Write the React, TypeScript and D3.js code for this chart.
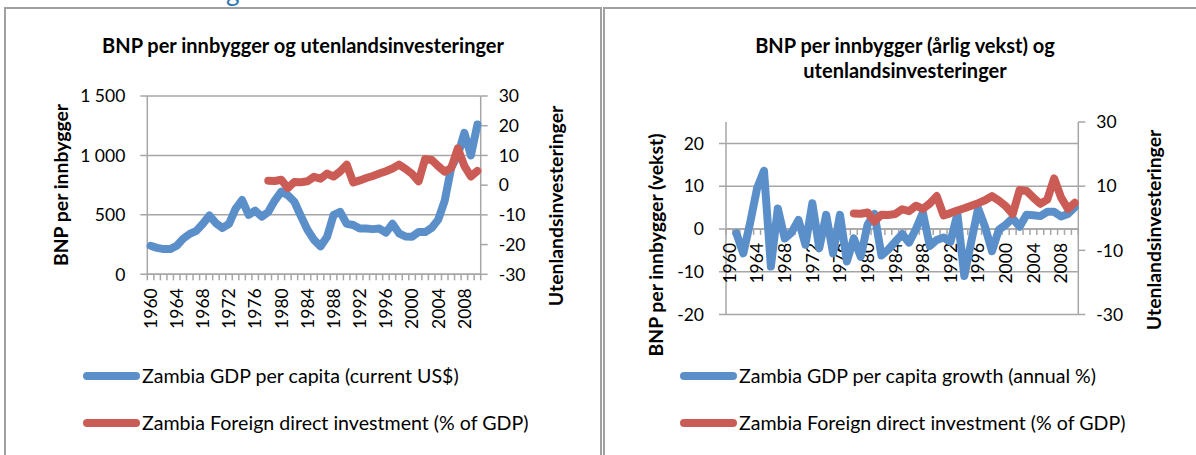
import React, { useEffect, useRef } from "react";
import * as d3 from "d3";

// category axis (one point per year)
const years = [
  1960, 1961, 1962, 1963, 1964, 1965, 1966, 1967, 1968, 1969,
  1970, 1971, 1972, 1973, 1974, 1975, 1976, 1977, 1978, 1979,
  1980, 1981, 1982, 1983, 1984, 1985, 1986, 1987, 1988, 1989,
  1990, 1991, 1992, 1993, 1994, 1995, 1996, 1997, 1998, 1999,
  2000, 2001, 2002, 2003, 2004, 2005, 2006, 2007, 2008, 2009, 2010,
];
const yearLabels = [1960, 1964, 1968, 1972, 1976, 1980, 1984, 1988, 1992, 1996, 2000, 2004, 2008];

// Zambia GDP per capita (current US$), 1960-2010
const gdpPerCapita = [
  240, 222, 212, 212, 240, 300, 340, 365, 425, 495,
  430, 390, 425, 550, 625, 500, 535, 485, 525, 620,
  695, 665, 610, 490, 375, 290, 235, 315, 500, 525,
  425, 415, 385, 385, 380, 385, 350, 425, 345, 318,
  315, 355, 355, 390, 460, 620, 900, 1000, 1190, 1000, 1260,
];

// Zambia GDP per capita growth (annual %), no value for 1960
const gdpGrowth: (number | null)[] = [
  null,
  -1.0, -5.7, 1.5, 9.5, 13.6, -8.8, 4.8, -2.2, -0.8, 2.1,
  -3.7, 6.0, -4.5, 3.3, -5.7, 3.3, -7.6, -2.2, -6.5, 1.0,
  3.5, -6.2, -4.8, -3.0, -1.2, -3.2, 0.0, 3.8, -4.0, -2.6,
  -2.0, -3.0, 3.5, -11.0, -3.0, 4.8, 0.5, -5.2, -0.2, 1.0,
  2.5, 0.5, 3.3, 3.2, 3.0, 4.0, 4.0, 2.9, 3.5, 5.1,
];

// Zambia Foreign direct investment (% of GDP), values from 1978
const fdi: (number | null)[] = [
  null, null, null, null, null, null, null, null, null, null,
  null, null, null, null, null, null, null, null,
  1.5, 1.4, 1.8, -1.0, 1.1, 1.0, 1.3, 2.8, 2.2, 3.9,
  2.9, 4.6, 6.9, 0.9, 1.6, 2.4, 3.1, 3.9, 4.7, 5.6,
  6.9, 5.5, 3.8, 1.3, 8.8, 8.5, 6.4, 4.5, 5.8, 12.4,
  6.5, 2.9, 4.8,
];

// axis ticks
const gdpTicks = [0, 500, 1000, 1500];
const fdiTicksA = [-30, -20, -10, 0, 10, 20, 30];
const growthTicks = [-20, -10, 0, 10, 20];
const fdiTicksB = [-30, -10, 10, 30];

const BLUE = "#5b8fc9";
const RED = "#cb5c55";
const GRID = "#a6a6a6";
const FONT = "Lato, 'Open Sans', sans-serif";

const nb = d3.formatLocale({ decimal: ",", thousands: " ", grouping: [3], currency: ["", ""] });
const fmtThousands = nb.format(",d");

function drawPanel(svg: any, p: any) {
  const g = svg.append("g");

  const x = d3.scaleBand<number>().domain(years).range([p.x0, p.x1]);
  const cx = (i: number) => (x(years[i]) as number) + x.bandwidth() / 2;
  const yL = d3.scaleLinear().domain(p.leftDomain).range([p.yBottom, p.yTop]);
  const yR = d3.scaleLinear().domain(p.rightDomain).range([p.yBottom, p.yTop]);

  // horizontal gridlines (left axis)
  g.selectAll(".grid")
    .data(p.leftTicks)
    .join("line")
    .attr("x1", p.x0 - 7)
    .attr("x2", p.x1)
    .attr("y1", (d: number) => yL(d))
    .attr("y2", (d: number) => yL(d))
    .attr("stroke", GRID)
    .attr("stroke-width", 1.5);

  // left & right axis lines
  g.append("line")
    .attr("x1", p.x0).attr("x2", p.x0)
    .attr("y1", p.yTop).attr("y2", p.yBottom)
    .attr("stroke", GRID).attr("stroke-width", 1.5);
  g.append("line")
    .attr("x1", p.x1).attr("x2", p.x1)
    .attr("y1", p.yTop).attr("y2", p.yBottom)
    .attr("stroke", GRID).attr("stroke-width", 1.5);

  // right ticks
  g.selectAll(".rtick")
    .data(p.rightTicks)
    .join("line")
    .attr("x1", p.x1)
    .attr("x2", p.x1 + 7)
    .attr("y1", (d: number) => yR(d))
    .attr("y2", (d: number) => yR(d))
    .attr("stroke", GRID)
    .attr("stroke-width", 1.5);

  // category axis at 0
  const axisY = yL(0);
  g.append("line")
    .attr("x1", p.x0).attr("x2", p.x1)
    .attr("y1", axisY).attr("y2", axisY)
    .attr("stroke", GRID).attr("stroke-width", 1.5);
  g.selectAll(".ctick")
    .data(d3.range(years.length + 1))
    .join("line")
    .attr("x1", (i: number) => p.x0 + i * x.step())
    .attr("x2", (i: number) => p.x0 + i * x.step())
    .attr("y1", axisY)
    .attr("y2", axisY + 6)
    .attr("stroke", GRID)
    .attr("stroke-width", 1.5);

  // tick labels
  g.selectAll(".ltxt")
    .data(p.leftTicks)
    .join("text")
    .attr("x", p.x0 - 22)
    .attr("y", (d: number) => yL(d))
    .attr("dy", "0.36em")
    .attr("text-anchor", "end")
    .attr("font-size", 17.5)
    .text((d: number) => p.leftFormat(d));
  g.selectAll(".rtxt")
    .data(p.rightTicks)
    .join("text")
    .attr("x", p.x1 + 18)
    .attr("y", (d: number) => yR(d))
    .attr("dy", "0.36em")
    .attr("font-size", 17.5)
    .text((d: number) => String(d));
  g.selectAll(".ytxt")
    .data(yearLabels)
    .join("text")
    .attr("transform", (d: number) => `translate(${cx(years.indexOf(d))},${axisY + 14}) rotate(-90)`)
    .attr("dy", "0.36em")
    .attr("text-anchor", "end")
    .attr("font-size", 17.5)
    .text((d: number) => String(d));

  // series
  const lineL = d3.line<number | null>()
    .defined((d) => d != null)
    .x((_, i) => cx(i))
    .y((d) => yL(d as number));
  const lineR = d3.line<number | null>()
    .defined((d) => d != null)
    .x((_, i) => cx(i))
    .y((d) => yR(d as number));
  g.append("path")
    .attr("d", lineL(p.leftSeries))
    .attr("fill", "none").attr("stroke", BLUE).attr("stroke-width", 8)
    .attr("stroke-linejoin", "round").attr("stroke-linecap", "round");
  g.append("path")
    .attr("d", lineR(p.rightSeries))
    .attr("fill", "none").attr("stroke", RED).attr("stroke-width", 8)
    .attr("stroke-linejoin", "round").attr("stroke-linecap", "round");

  // chart title
  g.append("text")
    .attr("x", p.titleX)
    .attr("y", p.titleY)
    .attr("text-anchor", "middle")
    .attr("font-size", 20)
    .attr("font-weight", "bold")
    .selectAll("tspan")
    .data(p.title)
    .join("tspan")
    .attr("x", p.titleX)
    .attr("dy", (_: string, i: number) => (i === 0 ? 0 : 25))
    .text((d: string) => d);

  // axis titles
  g.append("text")
    .attr("transform", `translate(${p.leftTitleX},${p.leftTitleY}) rotate(-90)`)
    .attr("text-anchor", "middle")
    .attr("font-size", 19.4)
    .attr("font-weight", "bold")
    .text(p.leftTitle);
  g.append("text")
    .attr("transform", `translate(${p.rightTitleX},${p.rightTitleY}) rotate(-90)`)
    .attr("text-anchor", "middle")
    .attr("font-size", 19.4)
    .attr("font-weight", "bold")
    .text(p.rightTitle);

  // legend
  const items = [
    { label: p.legend[0], color: BLUE, y: 376 },
    { label: p.legend[1], color: RED, y: 423 },
  ];
  const lg = g.selectAll(".leg").data(items).join("g");
  lg.append("line")
    .attr("x1", p.legendX + 4).attr("x2", p.legendX + 53)
    .attr("y1", (d: any) => d.y).attr("y2", (d: any) => d.y)
    .attr("stroke", (d: any) => d.color).attr("stroke-width", 8)
    .attr("stroke-linecap", "round");
  lg.append("text")
    .attr("x", p.legendX + 59)
    .attr("y", (d: any) => d.y)
    .attr("dy", "0.36em")
    .attr("font-size", 19.6)
    .text((d: any) => d.label);
}

export default function App() {
  const ref = useRef<SVGSVGElement>(null);

  useEffect(() => {
    const svg = d3.select(ref.current);
    svg.selectAll("*").remove();
    svg.attr("font-family", FONT).attr("fill", "#000");

    // page fragment and chart frames
    svg.append("text").attr("x", 226).attr("y", 1).attr("font-size", 26)
      .attr("fill", "#2e74b5").attr("font-family", FONT).text("g");
    svg.append("rect").attr("x", 5).attr("y", 8).attr("width", 596).attr("height", 460)
      .attr("fill", "none").attr("stroke", "#a0a0a0").attr("stroke-width", 2);
    svg.append("rect").attr("x", 604).attr("y", 8).attr("width", 600).attr("height", 460)
      .attr("fill", "none").attr("stroke", "#a0a0a0").attr("stroke-width", 2);

    drawPanel(svg, {
      x0: 147.3, x1: 480.7, yTop: 96, yBottom: 274.3,
      leftDomain: [0, 1500], rightDomain: [-30, 30],
      leftTicks: gdpTicks, rightTicks: fdiTicksA,
      leftFormat: (v: number) => fmtThousands(v),
      leftSeries: gdpPerCapita, rightSeries: fdi,
      title: ["BNP per innbygger og utenlandsinvesteringer"], titleX: 303, titleY: 53,
      leftTitle: "BNP per innbygger", leftTitleX: 68, leftTitleY: 185,
      rightTitle: "Utenlandsinvesteringer", rightTitleX: 563, rightTitleY: 206,
      legend: ["Zambia GDP per capita (current US$)", "Zambia Foreign direct investment (% of GDP)"],
      legendX: 83,
    });

    drawPanel(svg, {
      x0: 726, x1: 1078.3, yTop: 122, yBottom: 314.5,
      leftDomain: [-20, 25], rightDomain: [-30, 30],
      leftTicks: growthTicks, rightTicks: fdiTicksB,
      leftFormat: (v: number) => String(v),
      leftSeries: gdpGrowth, rightSeries: fdi,
      title: ["BNP per innbygger (årlig vekst) og", "utenlandsinvesteringer"], titleX: 905, titleY: 53,
      leftTitle: "BNP per innbygger (vekst)", leftTitleX: 663, leftTitleY: 245,
      rightTitle: "Utenlandsinvesteringer", rightTitleX: 1161, rightTitleY: 230,
      legend: ["Zambia GDP per capita growth (annual %)", "Zambia Foreign direct investment (% of GDP)"],
      legendX: 680,
    });
  }, []);

  return (
    <svg
      ref={ref}
      width={1196}
      height={455}
      style={{ position: "absolute", left: 0, top: 0, background: "#fff" }}
    />
  );
}
